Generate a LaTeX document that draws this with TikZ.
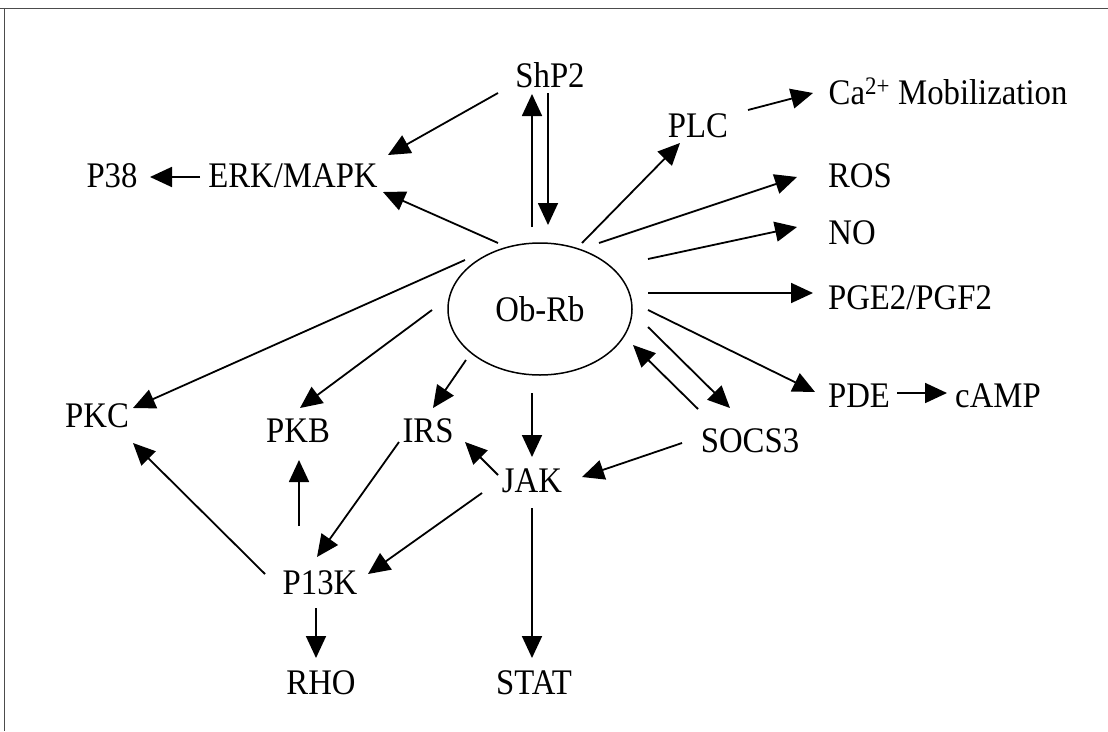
\documentclass[tikz,border=0pt]{standalone}
\usepackage{fontspec}
\setmainfont{Liberation Serif}[FakeStretch=0.91]
\usepackage{tikz}
\usetikzlibrary{arrows.meta,calc,shapes.geometric}

\begin{document}
\begin{tikzpicture}[x=1pt,y=-1pt,
  lbl/.style={inner sep=0pt,text height=24pt,text depth=0pt,font=\fontsize{36}{42}\selectfont},
  arr/.style={line width=1.8pt,-{Triangle[length=22pt,width=20pt]}}]
\useasboundingbox (0,0) rectangle (1108,731);
\draw[line width=1.5pt,black!70] (0,8.5) -- (1108,8.5);
\draw[line width=1.5pt,black!70] (4.5,8.5) -- (4.5,731);
% nodes
\node[lbl] (shp2) at (550,75) {ShP2};
\node[lbl] (ca) at (948,92) {Ca\textsuperscript{2+}\ Mobilization};
\node[lbl] (plc) at (698,125) {PLC};
\node[lbl] (erk) at (293,175) {ERK/MAPK};
\node[lbl] (p38) at (112,175) {P38};
\node[lbl] (ros) at (860,175) {ROS};
\node[lbl] (no) at (852,232) {NO};
\node[lbl] (pge) at (910,297) {PGE2/PGF2};
\node[lbl,draw,ellipse,line width=1.5pt,minimum width=184pt,minimum height=132pt] (obrb) at (540,309) {Ob-Rb};
\node[lbl] (pde) at (859,395) {PDE};
\node[lbl] (camp) at (998,395) {cAMP};
\node[lbl] (socs) at (750,440) {SOCS3};
\node[lbl] (pkc) at (97,415) {PKC};
\node[lbl] (pkb) at (298,430) {PKB};
\node[lbl] (irs) at (428,430) {IRS};
\node[lbl] (jak) at (532,480) {JAK};
\node[lbl] (pik) at (320,582) {P13K};
\node[lbl] (rho) at (321,682) {RHO};
\node[lbl] (stat) at (534,682) {STAT};
% upper half
\draw[arr] ($(shp2)+(-52,18)$) -- ($(erk)+(95,-20)$);
\draw[arr] ($(obrb)+(-8,-82)$) -- ($(shp2)+(-18,19)$);
\draw[arr] ($(shp2)+(-2,18)$) -- ($(obrb)+(8,-84)$);
\draw[arr] ($(obrb)+(-42,-66)$) -- ($(erk)+(90,17)$);
\draw[arr] ($(erk)+(-93,2)$) -- ($(p38)+(38,2)$);
\draw[arr] ($(obrb)+(42,-66)$) -- ($(plc)+(-18,18)$);
\draw[arr] ($(plc)+(50,-15)$) -- ($(ca)+(-135,1)$);
\draw[arr] ($(obrb)+(59,-66)$) -- ($(ros)+(-63,2)$);
\draw[arr] ($(obrb)+(108,-50)$) -- ($(no)+(-55,-5)$);
\draw[arr] ($(obrb)+(108,-16)$) -- ($(pge)+(-97,-4)$);
% right side
\draw[arr] ($(obrb)+(108,1)$) -- ($(pde)+(-44,-3)$);
\draw[arr] ($(pde)+(38,-2)$) -- ($(camp)+(-51,-2)$);
\draw[arr] ($(obrb)+(108,18)$) -- ($(socs)+(-20,-32)$);
\draw[arr] ($(socs)+(-52,-31)$) -- ($(obrb)+(93,36)$);
\draw[arr] ($(socs)+(-68,3)$) -- ($(jak)+(50,-3)$);
% lower left
\draw[arr] ($(obrb)+(-75,-49)$) -- ($(pkc)+(36,-7)$);
\draw[arr] ($(obrb)+(-108,1)$) -- ($(pkb)+(2,-22)$);
\draw[arr] ($(obrb)+(-74,51)$) -- ($(irs)+(5,-22)$);
\draw[arr] ($(obrb)+(-8,84)$) -- ($(jak)+(0,-23)$);
\draw[arr] ($(jak)+(-34,-5)$) -- ($(irs)+(37,12)$);
\draw[arr] ($(irs)+(-29,12)$) -- ($(pik)+(-3,-25)$);
\draw[arr] ($(jak)+(-50,13)$) -- ($(pik)+(48,-8)$);
\draw[arr] ($(pik)+(-21,-56)$) -- ($(pkb)+(1,30)$);
\draw[arr] ($(pik)+(-55,-8)$) -- ($(pkc)+(36,28)$);
\draw[arr] ($(pik)+(-4,26)$) -- ($(rho)+(-5,-24)$);
\draw[arr] ($(jak)+(0,28)$) -- ($(stat)+(-2,-24)$);
\end{tikzpicture}
\end{document}
